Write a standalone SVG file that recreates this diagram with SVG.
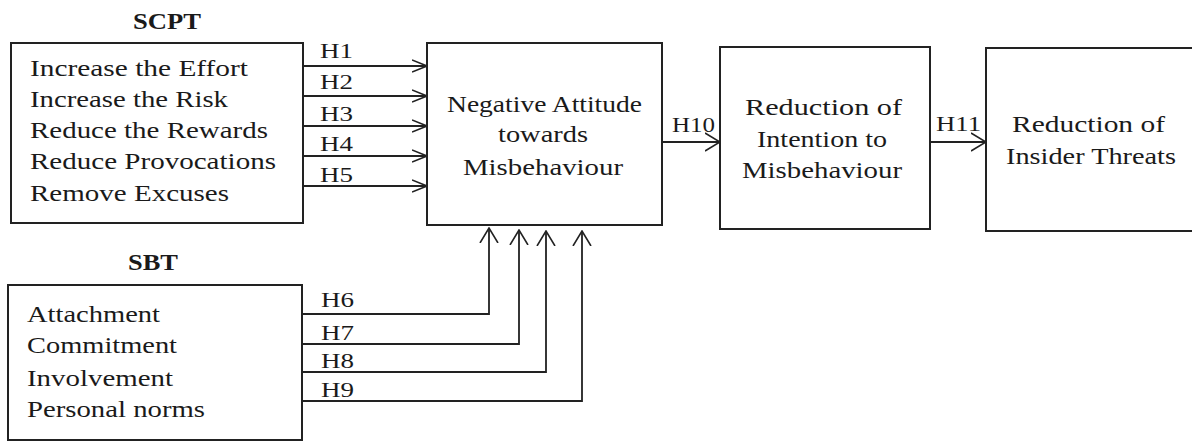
<svg xmlns="http://www.w3.org/2000/svg" width="1192" height="441" viewBox="0 0 1192 441">
<style>
.box{fill:#fff;stroke:#222;stroke-width:2}
.t{font-family:"Liberation Serif","Times New Roman",serif;font-size:23px;fill:#1a1a1a}
.title{font-family:"Liberation Serif","Times New Roman",serif;font-size:23px;font-weight:bold;fill:#1a1a1a}
.h{font-family:"Liberation Serif","Times New Roman",serif;font-size:20px;fill:#1a1a1a}
.c{fill:none;stroke:#222;stroke-width:1.8}
.sm{marker-end:url(#arrS)}
.lg{marker-end:url(#arrL)}
</style>
<defs>
<marker id="arrS" markerUnits="userSpaceOnUse" markerWidth="16" markerHeight="14" refX="15" refY="7" orient="auto" viewBox="0 0 16 14">
<path d="M0,1 L15,7 L0,13" fill="none" stroke="#222" stroke-width="1.6"/>
</marker>
<marker id="arrL" markerUnits="userSpaceOnUse" markerWidth="16" markerHeight="20" refX="15" refY="10" orient="auto" viewBox="0 0 16 20">
<path d="M0,1 L15,10 L0,19" fill="none" stroke="#222" stroke-width="1.6"/>
</marker>
</defs>
<rect width="1192" height="441" fill="#fff"/>

<g id="connectors">
<path class="c sm" d="M303,66 H427"/>
<path class="c sm" d="M303,96 H427"/>
<path class="c sm" d="M303,126 H427"/>
<path class="c sm" d="M303,156 H427"/>
<path class="c sm" d="M303,186 H427"/>
<path class="c lg" d="M302,314 H489 V228"/>
<path class="c lg" d="M302,344 H519 V230"/>
<path class="c lg" d="M302,372 H546 V231"/>
<path class="c lg" d="M302,401 H582 V231"/>
<path class="c lg" d="M662,142 H720"/>
<path class="c lg" d="M930,142 H986"/>
<text class="h" x="320" y="58" textLength="33" lengthAdjust="spacingAndGlyphs">H1</text>
<text class="h" x="320" y="89" textLength="33" lengthAdjust="spacingAndGlyphs">H2</text>
<text class="h" x="320" y="121" textLength="33" lengthAdjust="spacingAndGlyphs">H3</text>
<text class="h" x="320" y="151" textLength="33" lengthAdjust="spacingAndGlyphs">H4</text>
<text class="h" x="320" y="182" textLength="33" lengthAdjust="spacingAndGlyphs">H5</text>
<text class="h" x="321" y="307" textLength="33" lengthAdjust="spacingAndGlyphs">H6</text>
<text class="h" x="321" y="340" textLength="33" lengthAdjust="spacingAndGlyphs">H7</text>
<text class="h" x="321" y="368" textLength="33" lengthAdjust="spacingAndGlyphs">H8</text>
<text class="h" x="321" y="397" textLength="33" lengthAdjust="spacingAndGlyphs">H9</text>
<text class="h" x="672" y="132" textLength="43" lengthAdjust="spacingAndGlyphs">H10</text>
<text class="h" x="936" y="131" textLength="45" lengthAdjust="spacingAndGlyphs">H11</text>
</g>

<g id="scpt">
<text class="title" x="133" y="29" textLength="68" lengthAdjust="spacingAndGlyphs">SCPT</text>
<rect class="box" x="11" y="43" width="292" height="180"/>
<text class="t" x="30" y="76" textLength="218" lengthAdjust="spacingAndGlyphs">Increase the Effort</text>
<text class="t" x="30" y="107" textLength="198" lengthAdjust="spacingAndGlyphs">Increase the Risk</text>
<text class="t" x="30" y="138" textLength="238" lengthAdjust="spacingAndGlyphs">Reduce the Rewards</text>
<text class="t" x="30" y="169" textLength="246" lengthAdjust="spacingAndGlyphs">Reduce Provocations</text>
<text class="t" x="30" y="201" textLength="199" lengthAdjust="spacingAndGlyphs">Remove Excuses</text>
</g>

<g id="sbt">
<text class="title" x="128" y="270" textLength="50" lengthAdjust="spacingAndGlyphs">SBT</text>
<rect class="box" x="8" y="285" width="294" height="155"/>
<text class="t" x="27" y="322" textLength="133" lengthAdjust="spacingAndGlyphs">Attachment</text>
<text class="t" x="27" y="353" textLength="150" lengthAdjust="spacingAndGlyphs">Commitment</text>
<text class="t" x="27" y="386" textLength="146" lengthAdjust="spacingAndGlyphs">Involvement</text>
<text class="t" x="27" y="417" textLength="178" lengthAdjust="spacingAndGlyphs">Personal norms</text>
</g>

<g id="attitude">
<rect class="box" x="427" y="43" width="235" height="182"/>
<text class="t" x="447" y="112" textLength="195" lengthAdjust="spacingAndGlyphs">Negative Attitude</text>
<text class="t" x="498" y="142" textLength="90" lengthAdjust="spacingAndGlyphs">towards</text>
<text class="t" x="463" y="175" textLength="160" lengthAdjust="spacingAndGlyphs">Misbehaviour</text>
</g>

<g id="intention">
<rect class="box" x="720" y="47" width="210" height="182"/>
<text class="t" x="745" y="115" textLength="157" lengthAdjust="spacingAndGlyphs">Reduction of</text>
<text class="t" x="757" y="147" textLength="130" lengthAdjust="spacingAndGlyphs">Intention to</text>
<text class="t" x="742" y="178" textLength="160" lengthAdjust="spacingAndGlyphs">Misbehaviour</text>
</g>

<g id="threats">
<rect class="box" x="986" y="48" width="220" height="183"/>
<text class="t" x="1012" y="132" textLength="153" lengthAdjust="spacingAndGlyphs">Reduction of</text>
<text class="t" x="1006" y="164" textLength="170" lengthAdjust="spacingAndGlyphs">Insider Threats</text>
</g>
</svg>
